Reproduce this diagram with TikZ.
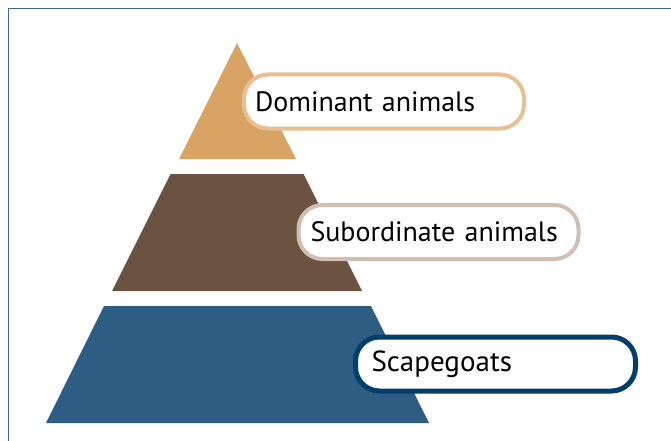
\documentclass[tikz,border=0pt]{standalone}
\usepackage{fontspec}
\setmainfont{PT Sans}
\definecolor{tanfill}{HTML}{D9A463}
\definecolor{brownfill}{HTML}{6B5241}
\definecolor{bluefill}{HTML}{2E5D84}
\definecolor{tanline}{HTML}{E8C08F}
\definecolor{brownline}{HTML}{D2BFB2}
\definecolor{blueline}{HTML}{003E6B}
\definecolor{frameline}{HTML}{3A6A90}
\begin{document}
\begin{tikzpicture}[x=1pt,y=-1pt,
  labelbox/.style={draw, fill=white, rounded corners=24pt, line width=4pt,
    minimum height=54pt, text width=258pt, inner xsep=11pt, align=left,
    font=\fontsize{28}{32}\selectfont, anchor=center}]
\useasboundingbox (0,0) rectangle (671,441);
\draw[frameline, line width=1.5pt] (8.5,445) -- (8.5,8.5) -- (675,8.5);
\fill[tanfill] (237,43) -- (296,159) -- (179,159) -- cycle;
\fill[brownfill] (170.5,174) -- (303.5,174) -- (362,291) -- (112,291) -- cycle;
\fill[bluefill] (104,306) -- (371,306) -- (429,423) -- (46,423) -- cycle;
\node[labelbox, draw=tanline] (dom) at (384,101.5) {Dominant animals};
\node[labelbox, draw=brownline] (sub) at (438.5,232) {\hspace*{1pt}Subordinate animals};
\node[labelbox, draw=blueline, line width=5pt, font=\fontsize{29}{32}\selectfont] (scape) at (495.5,364) {\hspace*{5pt}Scapegoats};
\end{tikzpicture}
\end{document}
